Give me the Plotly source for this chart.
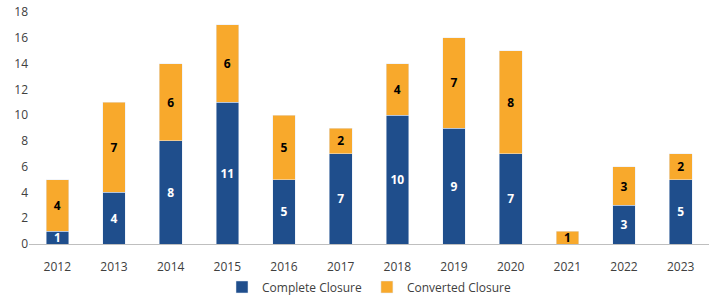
import plotly.graph_objects as go

years = ["2012", "2013", "2014", "2015", "2016", "2017", "2018", "2019", "2020", "2021", "2022", "2023"]
complete = [1, 4, 8, 11, 5, 7, 10, 9, 7, 0, 3, 5]
converted = [4, 7, 6, 6, 5, 2, 4, 7, 8, 1, 3, 2]

blue = "#1F4E8C"
orange = "#F8A92C"

fig = go.Figure()
fig.add_trace(go.Bar(
    x=years, y=complete, name="Complete Closure", marker_color=blue,
    text=[str(v) if v else "" for v in complete], textposition="inside",
    insidetextanchor="middle", textangle=0, constraintext="none",
    textfont=dict(color="white", size=12, family="Open Sans", weight="bold"),
))
fig.add_trace(go.Bar(
    x=years, y=converted, name="Converted Closure", marker_color=orange,
    text=[str(v) if v else "" for v in converted], textposition="inside",
    insidetextanchor="middle", textangle=0, constraintext="none",
    textfont=dict(color="black", size=12, family="Open Sans", weight="bold"),
))
fig.update_layout(
    barmode="stack", bargap=0.6,
    width=725, height=304,
    margin=dict(l=29, r=16, t=12, b=60, autoexpand=False),
    plot_bgcolor="white", paper_bgcolor="white",
    font=dict(family="Open Sans", size=12, color="#404040"),
    uniformtext=dict(minsize=12, mode="show"),
    legend=dict(orientation="h", x=0.5, xanchor="center", yref="container",
                y=0.056, yanchor="middle",
                font=dict(size=12, color="#404040"), traceorder="normal",
                itemwidth=30),
    xaxis=dict(showline=True, linecolor="#BFBFBF", linewidth=1, ticks="", showgrid=False,
               ticklabelstandoff=12),
    yaxis=dict(range=[0, 18], dtick=2, showgrid=False, zeroline=False, ticks="",
               showline=False),
)
fig.write_html("out.html")
